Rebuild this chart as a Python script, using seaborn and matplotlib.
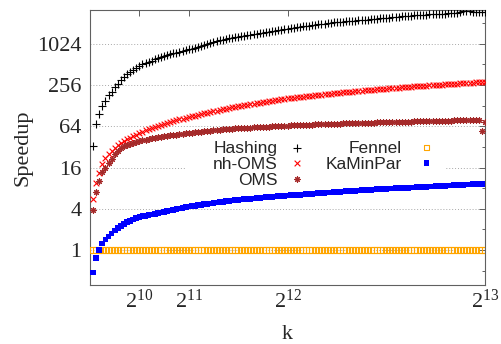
import matplotlib
matplotlib.use("Agg")
import matplotlib.pyplot as plt
from matplotlib.ticker import FixedLocator, FuncFormatter, NullLocator, NullFormatter
from matplotlib.patches import Rectangle
import seaborn as sns
import pandas as pd

# number of blocks k
k = list(range(64, 8193, 64))

hashing = [
    33, 68, 95, 127, 150, 182, 199, 240, 260, 300, 336, 364, 393, 422, 455, 487,
    512, 535, 559, 582, 605, 627, 650, 672, 694, 716, 737, 759, 780, 802, 823, 843,
    870, 900, 928, 960, 990, 1020, 1048, 1080, 1110, 1140, 1175, 1205, 1225, 1250, 1270, 1295,
    1318, 1340, 1365, 1390, 1410, 1440, 1465, 1490, 1510, 1540, 1560, 1590, 1615, 1640, 1665, 1690,
    1720, 1745, 1775, 1800, 1830, 1860, 1885, 1910, 1935, 1960, 1985, 2010, 2040, 2065, 2095, 2110,
    2130, 2150, 2170, 2185, 2200, 2220, 2240, 2255, 2270, 2300, 2325, 2350, 2375, 2400, 2420, 2440,
    2465, 2490, 2510, 2530, 2555, 2575, 2600, 2620, 2640, 2665, 2680, 2700, 2715, 2730, 2745, 2760,
    2775, 2790, 2815, 2840, 2865, 2890, 2915, 2940, 3020, 3100, 3050, 3000, 2980, 2960, 2945, 2930,
]

nh_oms = [
    5.5, 9.6, 13.2, 18.0, 21.8, 25.0, 28.2, 31.3, 34.0, 36.6, 39.0, 41.5, 43.8, 46.0, 48.2, 50.5,
    53.0, 55.5, 58.0, 60.3, 62.6, 65.0, 67.3, 69.5, 71.8, 74.0, 76.2, 78.4, 80.5, 82.6, 84.7, 86.8,
    89.3, 91.7, 94.1, 96.5, 98.9, 101.3, 103.7, 106.1, 108.5, 110.9, 113.3, 115.7, 118.1, 120.5, 122.9, 125.3,
    127.7, 130.0, 132.4, 134.7, 137.0, 139.4, 141.7, 144.0, 146.4, 148.8, 151.1, 153.5, 155.8, 158.2, 160.6, 163.0,
    165, 167, 169, 171, 173, 175, 177, 179, 181, 183, 185, 187, 189, 191, 193, 195,
    197, 199, 201, 203, 205, 207, 209, 211, 213, 215, 217, 219, 221, 223, 224.5, 226,
    228, 230, 232, 234, 236, 237.5, 239.5, 241.5, 243.5, 245.5, 247.5, 249, 251, 252.5, 254, 255.5,
    257.3, 259, 260.8, 262.6, 264.4, 266.2, 268, 269.8, 271.5, 273.2, 275, 276.7, 278.4, 280.1, 281.8, 283.5,
]

oms = [
    3.8, 7.1, 10.0, 13.9, 16.0, 18.4, 21.5, 25.0, 28.0, 30.5, 32.5, 34.0, 35.5, 36.8, 38.0, 39.2,
    40.0, 40.8, 41.6, 42.4, 43.2, 44.0, 44.8, 45.5, 46.2, 46.9, 47.6, 48.3, 49.0, 49.7, 50.4, 51.0,
    51.6, 52.2, 52.8, 53.4, 54.0, 54.6, 55.2, 55.8, 56.4, 57.0, 57.5, 58.0, 58.5, 59.0, 59.5, 60.0,
    60.3, 60.6, 61.0, 61.3, 61.6, 62.0, 62.3, 62.6, 63.0, 63.3, 63.6, 64.0, 64.3, 64.6, 65.0, 65.3,
    65.6, 65.9, 66.2, 66.5, 66.8, 67.1, 67.3, 67.6, 67.9, 68.1, 68.4, 68.7, 68.9, 69.2, 69.4, 69.7,
    69.9, 70.2, 70.4, 70.7, 70.9, 71.1, 71.4, 71.6, 71.8, 72.1, 72.3, 72.5, 72.7, 73.0, 73.2, 73.4,
    73.6, 73.8, 74.0, 74.2, 74.4, 74.6, 74.8, 75.0, 75.2, 75.4, 75.6, 75.8, 76.0, 76.2, 76.4, 76.6,
    76.8, 77.0, 77.2, 77.3, 77.5, 77.7, 77.8, 78.0, 78.2, 78.3, 78.5, 78.6, 78.8, 79.0, 54.0, 75.0,
]

fennel = [
    1.0, 1.0, 1.0, 1.0, 1.0, 1.0, 1.0, 1.0, 1.0, 1.0, 1.0, 1.0, 1.0, 1.0, 1.0, 1.0,
    1.0, 1.0, 1.0, 1.0, 1.0, 1.0, 1.0, 1.0, 1.0, 1.0, 1.0, 1.0, 1.0, 1.0, 1.0, 1.0,
    1.0, 1.0, 1.0, 1.0, 1.0, 1.0, 1.0, 1.0, 1.0, 1.0, 1.0, 1.0, 1.0, 1.0, 1.0, 1.0,
    1.0, 1.0, 1.0, 1.0, 1.0, 1.0, 1.0, 1.0, 1.0, 1.0, 1.0, 1.0, 1.0, 1.0, 1.0, 1.0,
    1.0, 1.0, 1.0, 1.0, 1.0, 1.0, 1.0, 1.0, 1.0, 1.0, 1.0, 1.0, 1.0, 1.0, 1.0, 1.0,
    1.0, 1.0, 1.0, 1.0, 1.0, 1.0, 1.0, 1.0, 1.0, 1.0, 1.0, 1.0, 1.0, 1.0, 1.0, 1.0,
    1.0, 1.0, 1.0, 1.0, 1.0, 1.0, 1.0, 1.0, 1.0, 1.0, 1.0, 1.0, 1.0, 1.0, 1.0, 1.0,
    1.0, 1.0, 1.0, 1.0, 1.0, 1.0, 1.0, 1.0, 1.0, 1.0, 1.0, 1.0, 1.0, 1.0, 1.0, 1.0,
]

kaminpar = [
    0.47, 0.76, 1.0, 1.25, 1.42, 1.58, 1.75, 1.92, 2.08, 2.24, 2.40, 2.55, 2.68, 2.80, 2.92, 3.02,
    3.10, 3.17, 3.24, 3.31, 3.38, 3.46, 3.54, 3.62, 3.70, 3.78, 3.87, 3.96, 4.05, 4.14, 4.22, 4.30,
    4.37, 4.44, 4.51, 4.58, 4.65, 4.72, 4.79, 4.86, 4.93, 5.00, 5.07, 5.14, 5.21, 5.28, 5.35, 5.42,
    5.47, 5.52, 5.57, 5.62, 5.67, 5.72, 5.77, 5.83, 5.88, 5.93, 5.98, 6.03, 6.08, 6.13, 6.18, 6.23,
    6.28, 6.33, 6.38, 6.43, 6.48, 6.53, 6.58, 6.63, 6.68, 6.73, 6.78, 6.83, 6.88, 6.93, 6.98, 7.03,
    7.08, 7.13, 7.18, 7.23, 7.28, 7.33, 7.38, 7.43, 7.48, 7.53, 7.58, 7.63, 7.68, 7.73, 7.78, 7.83,
    7.87, 7.91, 7.95, 7.99, 8.03, 8.07, 8.11, 8.15, 8.19, 8.23, 8.28, 8.33, 8.38, 8.43, 8.48, 8.53,
    8.58, 8.63, 8.68, 8.73, 8.78, 8.83, 8.88, 8.93, 8.98, 9.03, 9.08, 9.13, 9.18, 9.23, 9.28, 9.33,
]

series_names = ["Hashing", "nh-OMS", "OMS", "Fennel", "KaMinPar"]
series_values = [hashing, nh_oms, oms, fennel, kaminpar]

y_major = [1, 4, 16, 64, 256, 1024]
y_minor = [0.5, 2, 8, 32, 128, 512, 2048]
x_ticks = [1024, 2048, 4096, 8192]
x_tick_labels = [r"$\mathregular{2^{10}}$", r"$\mathregular{2^{11}}$",
                 r"$\mathregular{2^{12}}$", r"$\mathregular{2^{13}}$"]

# marker style per series (gnuplot-like point types)
styles = {
    "Hashing":  dict(marker="+", color="black", s=26, linewidth=0.8),
    "nh-OMS":   dict(marker="x", color="#ff0000", s=17, linewidth=0.8),
    "OMS":      dict(marker=(8, 2, 0), color="#a52a2a", s=17, linewidth=0.8),
    "Fennel":   dict(marker="s", color="#ffa500", facecolor="none",
                     edgecolor="#ffa500", s=15, linewidth=0.8),
    "KaMinPar": dict(marker="s", color="#0000ff", edgecolor="none", s=17, linewidth=0),
}

frames = []
for name, vals in zip(series_names, series_values):
    frames.append(pd.DataFrame({"k": k, "speedup": vals, "algorithm": name}))
df = pd.concat(frames, ignore_index=True)

sns.set_style("white")
plt.rcParams["font.family"] = ["Liberation Serif", "DejaVu Serif"]
plt.rcParams["mathtext.fontset"] = "custom"
plt.rcParams["mathtext.rm"] = "Liberation Serif"

fig = plt.figure(figsize=(5.02, 3.44), dpi=100)
ax = fig.add_axes([90 / 502, 1 - 285.3 / 344, 395 / 502, 275.3 / 344])

for i, name in enumerate(series_names):
    sub = df[df["algorithm"] == name]
    sns.scatterplot(data=sub, x="k", y="speedup", ax=ax, legend=False,
                    zorder=3 + i, **styles[name])

ax.set_yscale("log", base=2)
ax.set_xlim(0, 8192)
ax.set_ylim(0.306, 3175)

ax.yaxis.set_major_locator(FixedLocator(y_major))
ax.yaxis.set_minor_locator(FixedLocator(y_minor))
ax.yaxis.set_major_formatter(FuncFormatter(lambda v, _: f"{v:g}"))
ax.yaxis.set_minor_formatter(NullFormatter())
ax.xaxis.set_major_locator(FixedLocator(x_ticks))
ax.xaxis.set_minor_locator(NullLocator())
ax.set_xticklabels(x_tick_labels)

ax.tick_params(which="both", direction="in", top=True, right=True,
               color="#606060", width=0.7)
ax.tick_params(which="major", length=4)
ax.tick_params(which="minor", length=2.5)
ax.tick_params(axis="y", which="major", labelsize=16, pad=6)
ax.tick_params(axis="x", which="major", labelsize=16, pad=3)

for sp in ax.spines.values():
    sp.set_color("#606060")
    sp.set_linewidth(0.8)

ax.set_axisbelow(True)
ax.yaxis.grid(True, which="major", linestyle=(0, (1, 2)), color="#a8a8a8", linewidth=0.7)
ax.yaxis.grid(False, which="minor")
ax.xaxis.grid(False)

ax.set_xlabel("k", fontsize=16)
ax.set_ylabel("Speedup", fontsize=16)
ax.xaxis.set_label_coords(0.5, -0.143)
ax.yaxis.set_label_coords(-0.145, 0.5)

# key: opaque box, text right-aligned followed by the sample point
ax.add_patch(Rectangle((0.243, 0.364), 0.658, 0.175, transform=ax.transAxes,
                       facecolor="white", edgecolor="none", zorder=1))
key_cols = [(0.476, 0.523), (0.790, 0.852)]
key_text_y = [0.4817, 0.4224, 0.3643]
key_mark_y = [0.5005, 0.4432, 0.3854]
layout = [(0, 0), (0, 1), (0, 2), (1, 0), (1, 1)]
for name, (c, r) in zip(series_names, layout):
    tx, mx = key_cols[c]
    ax.text(tx, key_text_y[r], name, transform=ax.transAxes, ha="right",
            va="baseline", fontsize=12.5, family=["Liberation Sans", "DejaVu Sans"],
            zorder=10)
    st = dict(styles[name])
    ax.scatter([mx], [key_mark_y[r]], transform=ax.transAxes, clip_on=False,
               zorder=10, **st)

fig.savefig("out.png", dpi=100)
